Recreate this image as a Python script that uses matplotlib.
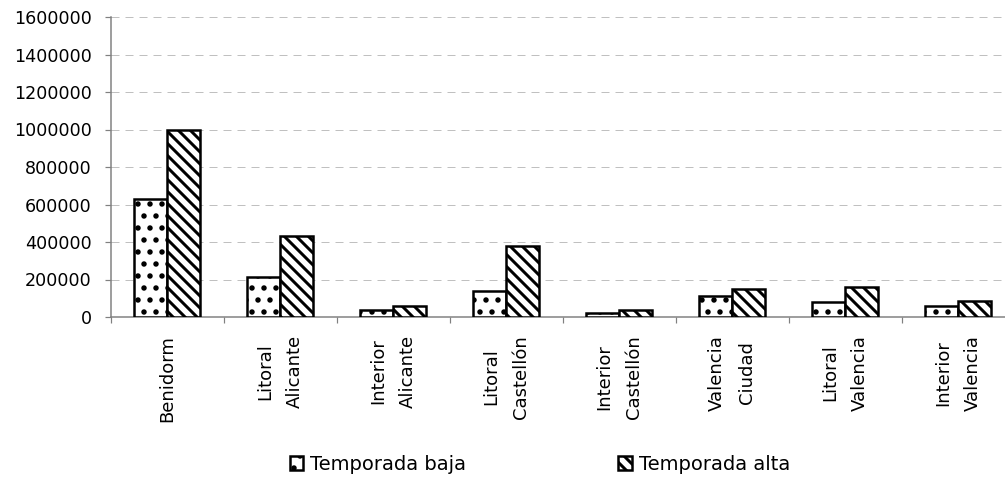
import numpy as np
import matplotlib
matplotlib.use("Agg")
import matplotlib.pyplot as plt

# data
zonas = ["Benidorm", "Litoral\nAlicante", "Interior\nAlicante", "Litoral\nCastellón",
         "Interior\nCastellón", "Valencia\nCiudad", "Litoral\nValencia", "Interior\nValencia"]
baja = [630000, 213000, 40000, 141000, 23000, 110000, 80000, 61000]
alta = [995000, 432000, 57000, 381000, 37000, 149000, 160000, 84000]
yticks = [0, 200000, 400000, 600000, 800000, 1000000, 1200000, 1400000, 1600000]

plt.rcParams['font.family'] = ['DejaVu Sans']
plt.rcParams['hatch.linewidth'] = 3.0

fig = plt.figure(figsize=(1005/72, 479/72), dpi=72)
ax = fig.add_axes([110.5/1005, 1 - 317/479, 904/1005, 300/479])

x = np.arange(len(zonas)) + 0.5
w = 0.292
ax.bar(x - w/2, baja, w, color='white', edgecolor='black', linewidth=2.5,
       hatch='.', label='Temporada baja', zorder=3)
ax.bar(x + w/2, alta, w, color='white', edgecolor='black', linewidth=2.5,
       hatch='\\\\', label='Temporada alta', zorder=3)

ax.set_xlim(0, len(zonas))
ax.set_ylim(0, 1600000)
ax.set_yticks(yticks)
ax.set_yticklabels([str(v) for v in yticks], fontsize=17.5)
ax.yaxis.grid(True, linestyle=(0, (8, 6)), color='#c0c0c0', linewidth=1, zorder=0)

# category boundaries as ticks, names at centres
ax.set_xticks(np.arange(len(zonas) + 1))
ax.set_xticklabels([])
ax.set_xticks(x, minor=True)
ax.set_xticklabels(zonas, minor=True, rotation=90, fontsize=18,
                   va='top', ha='center', multialignment='center', linespacing=1.85)
ax.tick_params(axis='x', which='major', length=6, width=1.2, color='#808080', direction='out')
ax.tick_params(axis='x', which='minor', length=0, pad=18)
ax.tick_params(axis='y', length=6, width=1.2, color='#808080', pad=13)

for s in ['top', 'right']:
    ax.spines[s].set_visible(False)
for s in ['left', 'bottom']:
    ax.spines[s].set_color('#808080')
    ax.spines[s].set_linewidth(1.5)

fig.legend(loc='center', bbox_to_anchor=(0.537, 0.031), ncol=2, frameon=False,
           fontsize=19.5, handlelength=0.7, handleheight=0.7, handletextpad=0.35,
           columnspacing=7.8, borderpad=0)

fig.savefig("out.png", dpi=72)
